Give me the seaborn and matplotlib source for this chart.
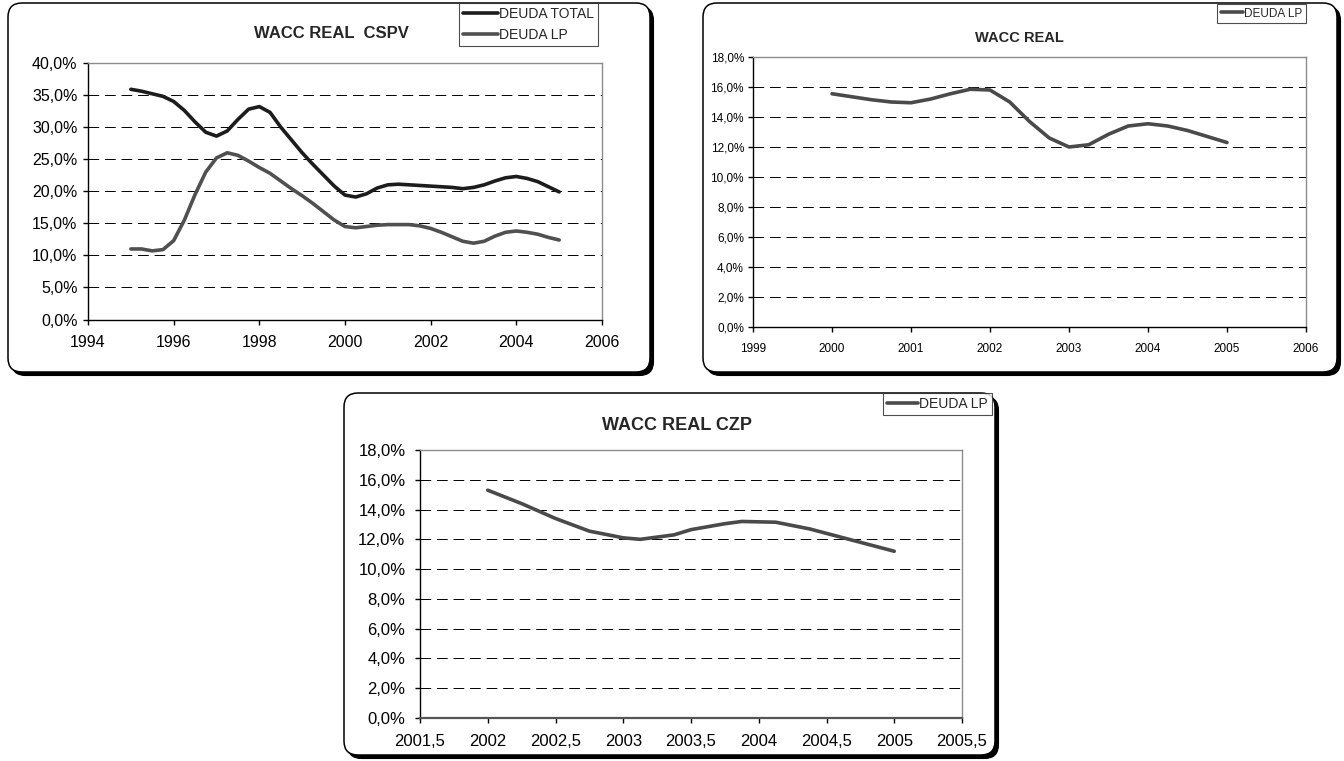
import matplotlib
matplotlib.use("Agg")
import matplotlib.pyplot as plt
from matplotlib.patches import FancyBboxPatch
from matplotlib.ticker import FuncFormatter, MultipleLocator
from matplotlib.lines import Line2D
import seaborn as sns
import pandas as pd

# ---- data -------------------------------------------------------------
cspv_years = [1995, 1995.25, 1995.5, 1995.75, 1996, 1996.25, 1996.5, 1996.75,
              1997, 1997.25, 1997.5, 1997.75, 1998, 1998.25, 1998.5, 1998.75,
              1999, 1999.25, 1999.5, 1999.75, 2000, 2000.25, 2000.5, 2000.75,
              2001, 2001.25, 2001.5, 2001.75, 2002, 2002.25, 2002.5, 2002.75,
              2003, 2003.25, 2003.5, 2003.75, 2004, 2004.25, 2004.5, 2004.75, 2005]
cspv_deuda_total = [35.9, 35.6, 35.2, 34.8, 34.0, 32.6, 30.8, 29.2,
                    28.6, 29.4, 31.2, 32.8, 33.2, 32.3, 30.0, 28.0,
                    26.0, 24.2, 22.5, 20.8, 19.4, 19.1, 19.6, 20.5,
                    21.0, 21.1, 21.0, 20.9, 20.8, 20.7, 20.6, 20.4,
                    20.6, 21.0, 21.6, 22.1, 22.3, 22.0, 21.5, 20.7, 19.9]
cspv_deuda_lp = [11.0, 11.0, 10.7, 10.9, 12.3, 15.5, 19.5, 23.0,
                 25.2, 26.0, 25.6, 24.7, 23.7, 22.8, 21.6, 20.4,
                 19.3, 18.1, 16.8, 15.5, 14.5, 14.3, 14.5, 14.7,
                 14.8, 14.8, 14.8, 14.6, 14.2, 13.6, 12.9, 12.2,
                 11.9, 12.2, 13.0, 13.6, 13.8, 13.6, 13.3, 12.8, 12.4]

real_years = [2000, 2000.25, 2000.5, 2000.75, 2001, 2001.25, 2001.5, 2001.75,
              2002, 2002.25, 2002.5, 2002.75, 2003, 2003.25, 2003.5, 2003.75,
              2004, 2004.25, 2004.5, 2004.75, 2005]
real_deuda_lp = [15.55, 15.35, 15.15, 15.0, 14.95, 15.2, 15.55, 15.85,
                 15.8, 15.0, 13.7, 12.6, 12.0, 12.15, 12.85, 13.4,
                 13.55, 13.4, 13.1, 12.7, 12.3]

czp_years = [2002, 2002.25, 2002.5, 2002.75, 2003, 2003.125, 2003.375, 2003.5,
             2003.75, 2003.875, 2004.125, 2004.375, 2004.5, 2004.75, 2005]
czp_deuda_lp = [15.3, 14.4, 13.4, 12.55, 12.1, 12.0, 12.3, 12.65,
                13.05, 13.2, 13.15, 12.7, 12.4, 11.8, 11.2]

series_labels = ["DEUDA TOTAL", "DEUDA LP"]
titles = ["WACC REAL  CSPV", "WACC REAL", "WACC REAL CZP"]

# ---- style ------------------------------------------------------------
sns.set_theme(style="white")
plt.rcParams["font.family"] = ["Liberation Sans", "DejaVu Sans"]
NARROW = ["Liberation Sans Narrow", "Liberation Sans", "DejaVu Sans"]
REGULAR = ["Liberation Sans", "DejaVu Sans"]

W, H = 1344, 761
LW = 2.6
fig = plt.figure(figsize=(W / 100, H / 100), dpi=100)
fig.patch.set_facecolor("white")


def rect(l, t, r, b):
    return [l / W, 1 - b / H, (r - l) / W, (b - t) / H]


def frame(x0, y0, x1, y1):
    # rounded panel border with a dark drop shadow, drawn in inch units
    kw = dict(boxstyle="round,pad=0,rounding_size=0.14",
              transform=fig.dpi_scale_trans)
    sh = FancyBboxPatch((x0 / 100 + 0.035, (H - y1) / 100 - 0.035),
                        (x1 - x0) / 100, (y1 - y0) / 100,
                        facecolor="black", edgecolor="black", lw=0.8,
                        zorder=-3, **kw)
    fr = FancyBboxPatch((x0 / 100, (H - y1) / 100),
                        (x1 - x0) / 100, (y1 - y0) / 100,
                        facecolor="white", edgecolor="black", lw=1.1,
                        zorder=-2, **kw)
    fig.add_artist(sh)
    fig.add_artist(fr)


def pct(v, _):
    return f"{v:.1f}%".replace(".", ",")


def year_fmt(v, _):
    if abs(v - round(v)) < 1e-6:
        return f"{int(round(v))}"
    return f"{v:.1f}".replace(".", ",")


def style_axes(ax, ymax, ystep, xlim, xstep, fsize, family, xpad, ypad,
               bottom_color="black", bottom_lw=1.0):
    ax.set_facecolor("white")
    ax.set_xlim(*xlim)
    ax.set_ylim(0, ymax)
    ax.yaxis.set_major_locator(MultipleLocator(ystep))
    ax.xaxis.set_major_locator(MultipleLocator(xstep))
    ax.yaxis.set_major_formatter(FuncFormatter(pct))
    ax.xaxis.set_major_formatter(FuncFormatter(year_fmt))
    ax.set_xlabel("")
    ax.set_ylabel("")
    for s in ("top", "right"):
        ax.spines[s].set_visible(True)
        ax.spines[s].set_color("#8c8c8c")
        ax.spines[s].set_linewidth(1.0)
    ax.spines["left"].set_color("black")
    ax.spines["left"].set_linewidth(1.0)
    ax.spines["bottom"].set_color(bottom_color)
    ax.spines["bottom"].set_linewidth(bottom_lw)
    ax.tick_params(axis="both", which="major", direction="out", length=3.5,
                   width=1.0, color="black", labelsize=fsize, labelcolor="black",
                   bottom=True, left=True)
    ax.tick_params(axis="x", pad=xpad)
    ax.tick_params(axis="y", pad=ypad)
    for lab in ax.get_xticklabels() + ax.get_yticklabels():
        lab.set_family(family)
    ax.yaxis.grid(True, color="black", linestyle=(0, (11, 6)), linewidth=0.7)
    ax.xaxis.grid(False)
    ax.set_axisbelow(True)
    gl = ax.get_ygridlines()
    gl[0].set_visible(False)
    gl[-1].set_visible(False)


def panel_legend(handles, labels, x, y, size, family, hlen, spacing=0.5):
    leg = fig.legend(handles, labels, loc="upper left",
                     bbox_to_anchor=(x / W, 1 - y / H),
                     bbox_transform=fig.transFigure, frameon=True, fancybox=False,
                     borderaxespad=0, borderpad=0.3, handlelength=hlen,
                     handletextpad=0.1, labelspacing=spacing,
                     prop={"family": family, "size": size})
    leg.get_frame().set_edgecolor("#222222")
    leg.get_frame().set_linewidth(0.8)
    return leg


# ---- panel frames -----------------------------------------------------
frame(8, 3, 650, 372)
frame(703, 3, 1337, 372)
frame(344, 393, 995, 755)

# ---- panel 1: WACC REAL CSPV -----------------------------------------
ax1 = fig.add_axes(rect(88, 63, 602, 319.5))
df1 = pd.DataFrame({"year": cspv_years, "total": cspv_deuda_total,
                    "lp": cspv_deuda_lp})
sns.lineplot(data=df1, x="year", y="total", ax=ax1, color="#1c1c1c", lw=LW)
sns.lineplot(data=df1, x="year", y="lp", ax=ax1, color="#505050", lw=LW)
style_axes(ax1, 40, 5, (1994, 2006), 2, 11.5, REGULAR, 8, 4)
panel_legend([Line2D([], [], color="#1c1c1c", lw=LW),
              Line2D([], [], color="#505050", lw=LW)],
             series_labels, 459, 3, 10, REGULAR, 2.5)
fig.text(331 / W, 1 - 34 / H, titles[0], ha="center", va="center",
         fontsize=12, fontweight="bold", family=NARROW)

# ---- panel 2: WACC REAL -------------------------------------------------
ax2 = fig.add_axes(rect(753, 57, 1306, 327))
df2 = pd.DataFrame({"year": real_years, "lp": real_deuda_lp})
sns.lineplot(data=df2, x="year", y="lp", ax=ax2, color="#4a4a4a", lw=LW)
style_axes(ax2, 18, 2, (1999, 2006), 1, 8.5, NARROW, 8, 3)
panel_legend([Line2D([], [], color="#4a4a4a", lw=LW)], [series_labels[1]],
             1217, 4, 8.5, NARROW, 1.9)
fig.text(1019 / W, 1 - 38 / H, titles[1], ha="center", va="center",
         fontsize=10.5, fontweight="bold", family=NARROW)

# ---- panel 3: WACC REAL CZP --------------------------------------------
ax3 = fig.add_axes(rect(420, 450, 962, 718))
df3 = pd.DataFrame({"year": czp_years, "lp": czp_deuda_lp})
sns.lineplot(data=df3, x="year", y="lp", ax=ax3, color="#4a4a4a", lw=LW)
style_axes(ax3, 18, 2, (2001.5, 2005.5), 0.5, 12, REGULAR, 8, 7,
           bottom_color="#555555", bottom_lw=1.6)
panel_legend([Line2D([], [], color="#4a4a4a", lw=LW)], [series_labels[1]],
             883, 393, 10, REGULAR, 2.2)
fig.text(677 / W, 1 - 425 / H, titles[2], ha="center", va="center",
         fontsize=13, fontweight="bold", family=NARROW)

fig.savefig("out.png", dpi=100, facecolor="white")
